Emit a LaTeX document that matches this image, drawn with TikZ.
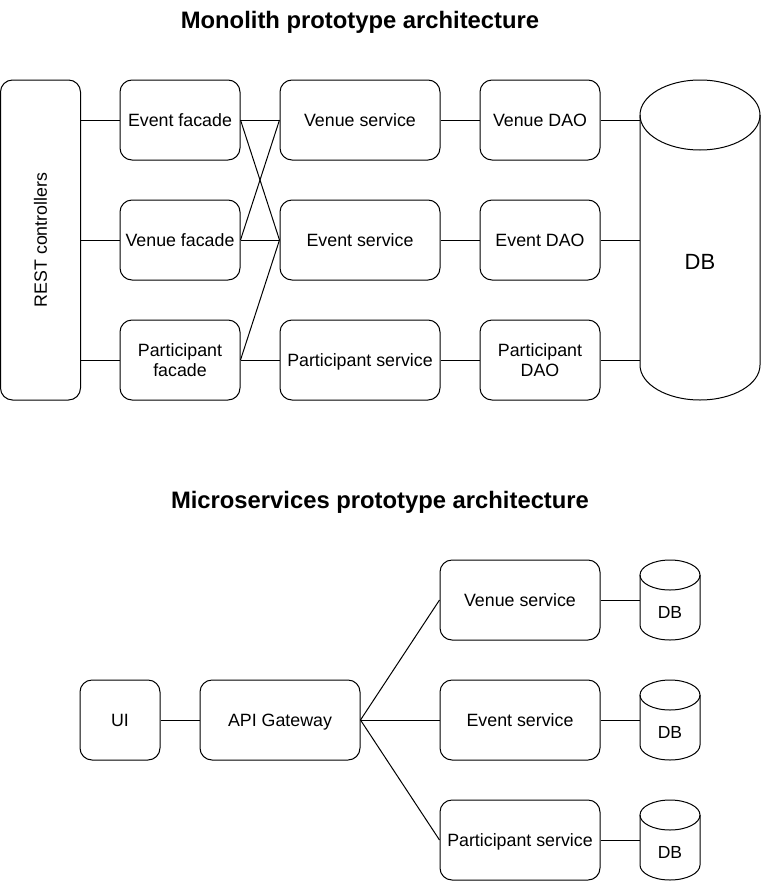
\documentclass[tikz,border=0pt]{standalone}
\usepackage{fontspec}
\usepackage{graphicx}
\setmainfont{Liberation Sans}
\begin{document}
\begin{tikzpicture}[x=1pt,y=-1pt,line width=1pt,
  box/.style={draw,rounded corners=12pt,minimum width=#1,minimum height=80pt,inner sep=0pt,align=center,font=\fontsize{17.8}{20}\selectfont},
  box/.default=120pt,
  one/.style={text depth=0pt},
  ttl/.style={font=\fontsize{23.8}{26}\selectfont\bfseries,anchor=base,inner sep=0pt},
  dbtext/.style={inner sep=0pt,text depth=0pt}]
\useasboundingbox (0,0) rectangle (761,881);
% titles
\node[ttl] (t1) at (360,28) {Monolith prototype architecture};
\node[ttl] (t2) at (380,508) {Microservices prototype architecture};
% monolith
\node[box,minimum width=80pt,minimum height=320pt] (rest) at (40.5,240) {\rotatebox{90}{REST controllers}};
\node[box,one] (evf) at (180,120) {Event facade};
\node[box,one] (vef) at (180,240) {Venue facade};
\node[box] (paf) at (180,360) {Participant\\facade};
\node[box=160pt,one] (ves) at (360,120) {Venue service};
\node[box=160pt,one] (evs) at (360,240) {Event service};
\node[box=160pt,one] (pas) at (360,360) {Participant service};
\node[box,one] (vdao) at (540,120) {Venue DAO};
\node[box,one] (edao) at (540,240) {Event DAO};
\node[box] (pdao) at (540,360) {Participant\\DAO};
% big DB cylinder
\draw (640,115) -- (640,365) arc[start angle=180,end angle=0,x radius=60,y radius=35] -- (760,115);
\draw (700,115) ellipse[x radius=60,y radius=35];
\node[inner sep=0pt,minimum width=120pt,minimum height=320pt] (db) at (700,240) {};
\node[dbtext,font=\fontsize{22}{24}\selectfont] (dbl) at (700,262) {DB};
% monolith connectors
\draw (rest.east |- evf.west) -- (evf.west);
\draw (rest.east |- vef.west) -- (vef.west);
\draw (rest.east |- paf.west) -- (paf.west);
\draw (evf.east) -- (ves.west);
\draw (evf.east) -- (evs.west);
\draw (vef.east) -- (evs.west);
\draw (vef.east) -- (ves.west);
\draw (paf.east) -- (pas.west);
\draw (paf.east) -- (evs.west);
\draw (ves.east) -- (vdao.west);
\draw (evs.east) -- (edao.west);
\draw (pas.east) -- (pdao.west);
\draw (vdao.east) -- (vdao.east -| db.west);
\draw (edao.east) -- (edao.east -| db.west);
\draw (pdao.east) -- (pdao.east -| db.west);
% microservices
\node[box=80pt,one] (ui) at (120,720) {UI};
\node[box=160pt,one] (api) at (280,720) {API Gateway};
\node[box=160pt,one] (mves) at (520,600) {Venue service};
\node[box=160pt,one] (mevs) at (520,720) {Event service};
\node[box=160pt,one] (mpas) at (520,840) {Participant service};
\foreach \n/\y in {1/560,2/680,3/800}{
  \draw (640,\y+15) -- (640,\y+65) arc[start angle=180,end angle=0,x radius=30,y radius=15] -- (700,\y+15);
  \draw (670,\y+15) ellipse[x radius=30,y radius=15];
  \node[inner sep=0pt,minimum width=60pt,minimum height=80pt] (db\n) at (670,\y+40) {};
  \node[dbtext,font=\fontsize{17.5}{20}\selectfont] (dbl\n) at (670,\y+52) {DB};
}
\draw (ui.east) -- (api.west);
\draw (api.east) -- (mves.west);
\draw (api.east) -- (mevs.west);
\draw (api.east) -- (mpas.west);
\draw (mves.east) -- (mves.east -| db1.west);
\draw (mevs.east) -- (mevs.east -| db2.west);
\draw (mpas.east) -- (mpas.east -| db3.west);
\end{tikzpicture}
\end{document}
